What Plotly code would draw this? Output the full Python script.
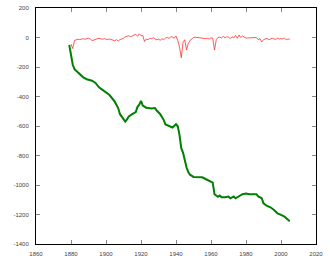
import plotly.graph_objects as go

# Annual series (red)
red_years = list(range(1880, 2006))
red_values = [
    -45, -75, -20, -15, -12, -14, -10, -8, -12, -6,
    -4, -10, -20, -18, -10, -8, -6, -10, -12, -8,
    -10, -14, -10, -14, -20, -22, -15, -24, -14, -10,
    -5, 5, 10, 12, 5, 10, 15, 22, 8, 25,
    12, 15, -28, -10, -15, -5, -8, -2, -10, -15,
    -12, -18, -8, -14, -4, 0, -6, 5, 3, -5,
    10, -20, -65, -137, -35, -15, -85, -40, -20, -8,
    0, 2, 0, 2, -2, -6, -3, -8, -5, -10,
    -2, -5, -85, -15, 0, 2, -3, 8, -2, 5,
    2, -8, 5, -3, 14, -5, 17, 0, 10, 5,
    -4, -3, -2, -5, -3, -2, 0, -15, -8, -30,
    -15, -10, -5, -15, -8, -5, -10, -12, -5, -10,
    -8, -10, -5, -15, -10, -12,
]

# Cumulative series (green)
green_years = [1879, 1880, 1881, 1882, 1884, 1887, 1889, 1892, 1894, 1896,
               1898, 1902, 1905, 1907, 1908, 1911, 1912, 1913, 1915, 1917,
               1918, 1919, 1920, 1921, 1923, 1926, 1928, 1929, 1931, 1933,
               1934, 1936, 1938, 1940, 1941, 1942, 1943, 1944, 1945, 1946,
               1947, 1948, 1950, 1955, 1958, 1961, 1962, 1963, 1964, 1965,
               1966, 1968, 1970, 1971, 1972, 1973, 1974, 1976, 1978, 1980,
               1982, 1986, 1987, 1989, 1990, 1992, 1994, 1996, 1998, 2000,
               2002, 2005]
green_values = [-50, -120, -185, -215, -238, -270, -283, -293, -308, -338,
                -355, -390, -435, -480, -520, -570, -555, -535, -520, -505,
                -470, -455, -430, -462, -476, -482, -478, -495, -520, -560,
                -590, -600, -610, -588, -602, -660, -750, -780, -840, -880,
                -912, -930, -945, -948, -966, -984, -1063, -1075, -1080, -1072,
                -1083, -1083, -1078, -1090, -1086, -1078, -1090, -1075, -1062, -1058,
                -1062, -1063, -1078, -1090, -1124, -1142, -1151, -1169, -1192, -1203,
                -1215, -1245]

x_ticks = [1860, 1880, 1900, 1920, 1940, 1960, 1980, 2000, 2020]
y_ticks = [200, 0, -200, -400, -600, -800, -1000, -1200, -1400]

fig = go.Figure()
fig.add_trace(go.Scatter(x=red_years, y=red_values, mode="lines",
                         line=dict(color="#ff3030", width=0.8), showlegend=False))
fig.add_trace(go.Scatter(x=green_years, y=green_values, mode="lines",
                         line=dict(color="#008000", width=2), showlegend=False))

axis_common = dict(showgrid=False, zeroline=False, showline=True, linecolor="black",
                   linewidth=1, mirror="allticks", ticks="inside", ticklen=4,
                   tickcolor="#888888", tickwidth=1, automargin=False,
                   tickfont=dict(family="Liberation Sans, Arial", size=6, color="#444444"))

fig.update_layout(
    width=330, height=264,
    margin=dict(l=36, r=14, t=8, b=20),
    paper_bgcolor="white", plot_bgcolor="white",
    xaxis=dict(range=[1860, 2020], tickvals=x_ticks, ticklabelstandoff=4,
               ticktext=[str(v) for v in x_ticks], **axis_common),
    yaxis=dict(range=[-1400, 200], tickvals=y_ticks, ticklabelstandoff=5,
               ticktext=[str(v) for v in y_ticks], **axis_common),
)

fig.write_html("out.html")
